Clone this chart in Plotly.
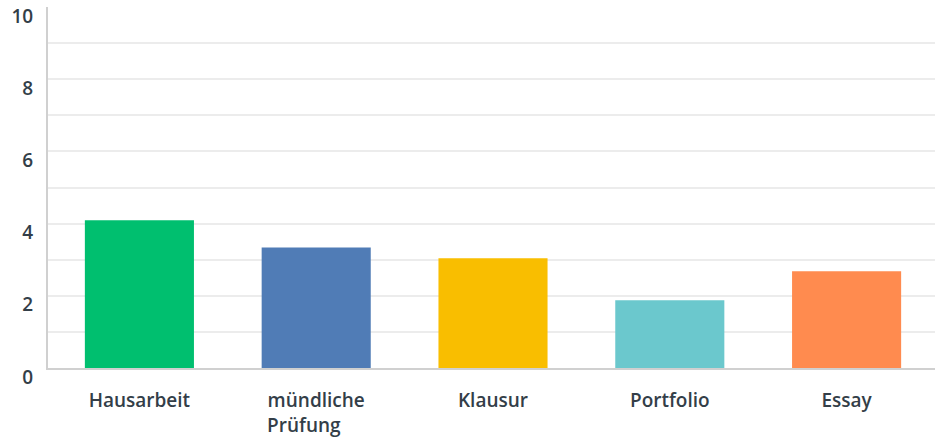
import plotly.graph_objects as go

# answer options and their mean values
categories = ["Hausarbeit", "mündliche<br>Prüfung\u00a0\u00a0\u00a0\u00a0\u00a0", "Klausur", "Portfolio", "Essay"]
values = [4.09, 3.34, 3.04, 1.88, 2.68]
bar_colors = ["#00BF6F", "#507CB6", "#F9BE00", "#6BC8CD", "#FF8B4F"]

y_ticks = [0, 2, 4, 6, 8, 10]
grid_vals = [1, 2, 3, 4, 5, 6, 7, 8, 9]

text_color = "#333e48"
font_family = "Open Sans, sans-serif"

fig = go.Figure()
fig.add_trace(go.Bar(x=categories, y=values, marker=dict(color=bar_colors, line=dict(width=0)),
                     hoverinfo="skip"))
# invisible trace on second axis just to carry the light gridlines
fig.add_trace(go.Scatter(x=[categories[0]], y=[0], yaxis="y2", mode="markers",
                         marker=dict(opacity=0), hoverinfo="skip", showlegend=False))

fig.update_layout(
    width=937, height=439,
    margin=dict(l=48, r=2, t=7, b=71),
    paper_bgcolor="white", plot_bgcolor="white",
    showlegend=False,
    bargap=0.383,
    font=dict(family=font_family, color=text_color, size=19),
    xaxis=dict(range=[-0.517, 4.5], showgrid=False, showline=True, linecolor="#d0d0d0",
               linewidth=2, ticks="", ticklabelstandoff=14, automargin=False,
               tickfont=dict(family=font_family, size=19, color=text_color, weight=600)),
    yaxis=dict(range=[0, 10], tickvals=y_ticks, showgrid=False, zeroline=False,
               showline=True, linecolor="#d0d0d0", linewidth=2, ticks="",
               ticklabelstandoff=9, ticklabelshift=9, ticklabeloverflow="allow",
               automargin=False,
               tickfont=dict(family=font_family, size=19, color=text_color, weight=600)),
    yaxis2=dict(range=[0, 10], overlaying="y", tickvals=grid_vals, showgrid=True,
                gridcolor="#ececec", gridwidth=2, showticklabels=False, zeroline=False,
                showline=False, automargin=False),
)

# drop the default 8px page margin so the figure fills the window exactly
fig.write_html("out.html", config={"displayModeBar": False},
               post_script="document.body.style.margin = '0';")
